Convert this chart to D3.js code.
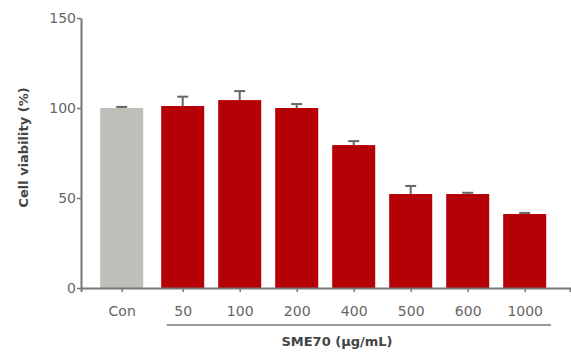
<!DOCTYPE html>
<html>
<head>
<meta charset="utf-8">
<script src="https://cdn.jsdelivr.net/npm/d3@7"></script>
<style>
  body { margin: 0; background: #fff; }
  text { font-family: "DejaVu Sans", sans-serif; }
</style>
</head>
<body>
<div id="chart"></div>
<script>
// data
var categories = ["Con", "50", "100", "200", "400", "500", "600", "1000"];
var viability = [100, 101.1, 104.4, 100, 79.4, 52.2, 52.2, 41.1];
var errors = [0.6, 5.2, 5, 2.2, 2.2, 4.5, 0.7, 0.6];
var yTicks = [0, 50, 100, 150];

var width = 571, height = 352;
var conGap = 4; // control bar sits a little apart from the doses

var svg = d3.select("#chart").append("svg").attr("width", width).attr("height", height);

var x = d3.scaleBand().domain(categories).range([97.2, 553.2]).paddingInner(0.245).paddingOuter(0.1225);
var y = d3.scaleLinear().domain([0, 150]).range([288, 18]);

function cx(d) {
    return x(d) + x.bandwidth() / 2 - (d == "Con" ? conGap : 0);
}

// bars
svg.selectAll("rect.bar").data(categories).enter().append("rect")
    .attr("class", "bar")
    .attr("x", function(d) { return cx(d) - x.bandwidth() / 2; })
    .attr("width", x.bandwidth())
    .attr("y", function(d, i) { return y(viability[i]); })
    .attr("height", function(d, i) { return y(0) - y(viability[i]); })
    .attr("fill", function(d) { return d == "Con" ? "#bfbfba" : "#b50005"; });

// error bars (upper only)
var eb = svg.selectAll("g.err").data(categories).enter().append("g").attr("class", "err")
    .attr("stroke", "#666").attr("stroke-width", 2);
eb.append("line")
    .attr("x1", cx).attr("x2", cx)
    .attr("y1", function(d, i) { return y(viability[i]); })
    .attr("y2", function(d, i) { return y(viability[i] + errors[i]); });
eb.append("line")
    .attr("x1", function(d) { return cx(d) - 5.5; })
    .attr("x2", function(d) { return cx(d) + 5.5; })
    .attr("y1", function(d, i) { return y(viability[i] + errors[i]); })
    .attr("y2", function(d, i) { return y(viability[i] + errors[i]); });

// y axis
var yAxis = svg.append("g").attr("transform", "translate(81,0)")
    .call(d3.axisLeft(y).tickValues(yTicks).tickSize(4).tickSizeOuter(0).tickPadding(1));
yAxis.select(".domain").attr("stroke", "#777").attr("stroke-width", 2);
yAxis.selectAll(".tick line").attr("stroke", "#777").attr("stroke-width", 1.5);
yAxis.selectAll(".tick text").attr("fill", "#666").attr("font-size", 14).attr("font-family", "DejaVu Sans");

// x axis: ticks at bar centres, drawn on a plain scale so Con can be offset
var xAxis = svg.append("g").attr("transform", "translate(0,288)");
var xl = d3.scaleLinear().domain([81, 570]).range([81, 570]);
xAxis.call(d3.axisBottom(xl).tickValues(categories.map(cx)).tickSize(4).tickSizeOuter(4).tickPadding(14)
    .tickFormat(function(v, i) { return categories[i]; }));
xAxis.select(".domain").attr("stroke", "#777").attr("stroke-width", 2);
xAxis.selectAll(".tick line").attr("stroke", "#777").attr("stroke-width", 1.5);
xAxis.selectAll(".tick text").attr("fill", "#666").attr("font-size", 14).attr("font-family", "DejaVu Sans");

// bracket under the dose labels
svg.append("line")
    .attr("x1", 166.7).attr("x2", 551)
    .attr("y1", 325).attr("y2", 325)
    .attr("stroke", "#777").attr("stroke-width", 1.5);

svg.append("text")
    .attr("x", 337).attr("y", 345.5)
    .attr("text-anchor", "middle")
    .attr("font-size", 13).attr("font-weight", "bold").attr("fill", "#444")
    .text("SME70 (μg/mL)");

svg.append("text")
    .attr("transform", "translate(28,147.5) rotate(-90)")
    .attr("text-anchor", "middle")
    .attr("font-size", 13).attr("font-weight", "bold").attr("fill", "#444")
    .text("Cell viability (%)");
</script>
</body>
</html>
